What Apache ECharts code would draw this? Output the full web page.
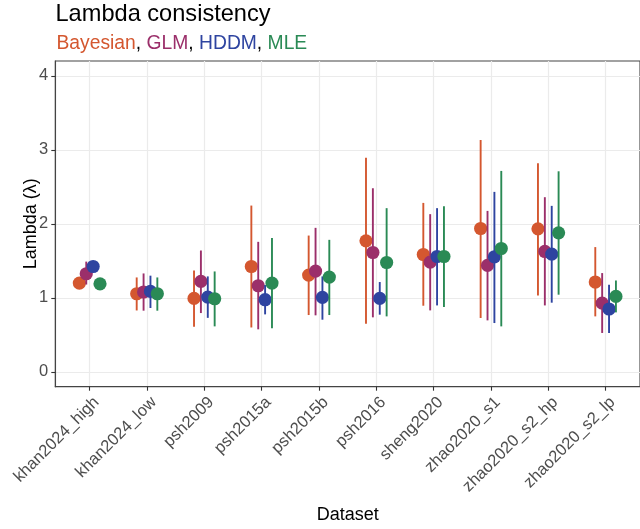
<!DOCTYPE html>
<html>
<head>
<meta charset="utf-8">
<script src="https://cdn.jsdelivr.net/npm/echarts@6/dist/echarts.min.js"></script>
<style>html,body{margin:0;padding:0;background:#fff}#c{width:640px;height:529px}</style>
</head>
<body>
<div id="c"></div>
<script>
const categories = ['khan2024_high','khan2024_low','psh2009','psh2015a','psh2015b','psh2016','sheng2020','zhao2020_s1','zhao2020_s2_hp','zhao2020_s2_lp'];
const methods = ['Bayesian','GLM','HDDM','MLE'];
const yTicks = [0, 1, 2, 3, 4];

const bayesian   = [1.20, 1.056, 0.993, 1.424, 1.308, 1.771, 1.586, 1.937, 1.933, 1.214];
const bayesianLo = [1.20, 0.83, 0.61, 0.60, 0.768, 0.651, 0.894, 0.728, 1.033, 0.75];
const bayesianHi = [1.20, 1.276, 1.37, 2.247, 1.842, 2.894, 2.283, 3.133, 2.818, 1.686];

const glm   = [1.326, 1.079, 1.222, 1.164, 1.362, 1.613, 1.483, 1.438, 1.627, 0.93];
const glmLo = [1.18, 0.827, 0.795, 0.575, 0.764, 0.737, 0.831, 0.696, 0.898, 0.526];
const glmHi = [1.49, 1.33, 1.64, 1.757, 1.946, 2.481, 2.131, 2.175, 2.36, 1.335];

const hddm   = [1.424, 1.087, 1.011, 0.975, 1.006, 0.993, 1.559, 1.555, 1.591, 0.85];
const hddmLo = [1.424, 0.863, 0.73, 0.777, 0.705, 0.773, 0.898, 0.66, 0.935, 0.526];
const hddmHi = [1.424, 1.30, 1.29, 1.173, 1.29, 1.214, 2.212, 2.432, 2.243, 1.177];

const mle   = [1.19, 1.056, 0.988, 1.20, 1.281, 1.478, 1.559, 1.667, 1.879, 1.02];
const mleLo = [1.19, 0.827, 0.615, 0.588, 0.768, 0.75, 0.877, 0.615, 1.043, 0.804];
const mleHi = [1.19, 1.276, 1.357, 1.81, 1.784, 2.212, 2.239, 2.715, 2.71, 1.235];

const colors = ['#D4572F', '#9B2F6A', '#2E44A0', '#2A8A55'];
const dodge = [-0.18, -0.06, 0.06, 0.18];
const groups = [
  [bayesian, bayesianLo, bayesianHi],
  [glm, glmLo, glmHi],
  [hddm, hddmLo, hddmHi],
  [mle, mleLo, mleHi]
];

const series = groups.map(function (g, k) {
  const data = categories.map(function (c, i) {
    return [i + dodge[k], g[0][i], g[1][i], g[2][i]];
  });
  return {
    type: 'custom',
    name: methods[k],
    z: 2 + k,
    clip: false,
    data: data,
    encode: { x: 0, y: 1 },
    renderItem: function (params, api) {
      const x = api.value(0);
      const p = api.coord([x, api.value(1)]);
      const lo = api.coord([x, api.value(2)]);
      const hi = api.coord([x, api.value(3)]);
      return {
        type: 'group',
        children: [
          { type: 'line', shape: { x1: lo[0], y1: lo[1], x2: hi[0], y2: hi[1] },
            style: { stroke: colors[k], lineWidth: 1.9 } },
          { type: 'circle', shape: { cx: p[0], cy: p[1], r: 6.6 },
            style: { fill: colors[k] } }
        ]
      };
    }
  };
});

const xTickVals = categories.map(function (c, i) { return i; });
const xLabelVals = categories.map(function (c, i) { return i + 0.12; });

const FONT = 'Liberation Sans, Arial';
const chart = echarts.init(document.getElementById('c'), null, { renderer: 'canvas' });
chart.setOption({
  animation: false,
  backgroundColor: '#fff',
  title: [
    { text: 'Lambda consistency', left: 55.5, top: 2, padding: 0,
      textStyle: { fontFamily: FONT, fontSize: 23.6, fontWeight: 'normal', color: '#000' } },
    { text: '{b|Bayesian}{k|, }{g|GLM}{k|, }{h|HDDM}{k|, }{m|MLE}', left: 56.5, top: 34, padding: 0,
      textStyle: { fontFamily: FONT, fontSize: 19.3, fontWeight: 'normal',
        rich: {
          b: { color: colors[0], fontSize: 19.3, fontFamily: FONT },
          g: { color: colors[1], fontSize: 19.3, fontFamily: FONT },
          h: { color: colors[2], fontSize: 19.3, fontFamily: FONT },
          m: { color: colors[3], fontSize: 19.3, fontFamily: FONT },
          k: { color: '#000', fontSize: 19.3, fontFamily: FONT }
        } } }
  ],
  grid: { left: 55.3, top: 61, height: 325.7, width: 590.6, show: true, borderColor: '#444', borderWidth: 1.1, backgroundColor: 'transparent', containLabel: false },
  xAxis: {
    type: 'value', min: -0.6, max: 9.6, position: 'bottom',
    name: 'Dataset', nameLocation: 'middle', nameGap: 119, nameMoveOverlap: false,
    nameTextStyle: { fontFamily: FONT, fontSize: 18, color: '#000' },
    axisLine: { show: true, onZero: false, lineStyle: { color: '#444', width: 1.1 } },
    axisTick: { show: true, inside: false, customValues: xTickVals, length: 4, lineStyle: { color: '#333', width: 1.1 } },
    axisLabel: { show: true, customValues: xLabelVals, rotate: 45, margin: 13,
      fontFamily: FONT, fontSize: 16.5, color: '#4d4d4d',
      formatter: function (v) { return categories[Math.round(v)]; } },
    splitLine: { show: true, lineStyle: { color: '#ebebeb', width: 1.2 } }
  },
  yAxis: {
    type: 'value', min: -0.2, max: 4.2, position: 'left',
    name: 'Lambda (λ)', nameLocation: 'middle', nameGap: 15, nameMoveOverlap: false,
    nameTextStyle: { fontFamily: FONT, fontSize: 18, color: '#000' },
    axisLine: { show: true, onZero: false, lineStyle: { color: '#444', width: 1.1 } },
    axisTick: { show: true, inside: false, customValues: yTicks, length: 4, lineStyle: { color: '#333', width: 1.1 } },
    axisLabel: { show: true, customValues: yTicks, margin: 7,
      fontFamily: FONT, fontSize: 16.5, color: '#4d4d4d' },
    splitLine: { show: true, lineStyle: { color: '#ebebeb', width: 1.2 } }
  },
  series: series
});
</script>
</body>
</html>
